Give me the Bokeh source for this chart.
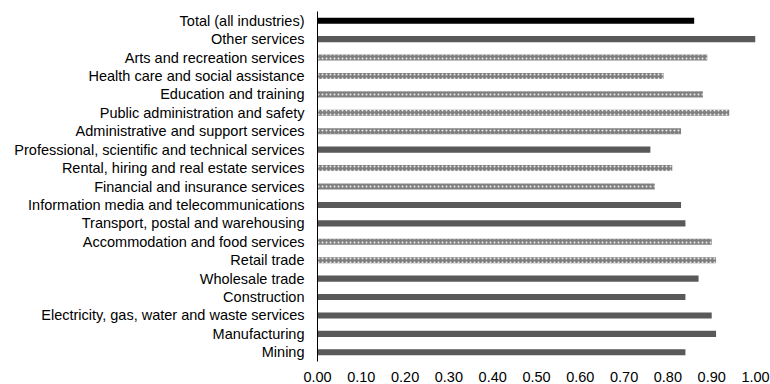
from bokeh.plotting import figure
from bokeh.models import ColumnDataSource, FactorRange, FixedTicker, NumeralTickFormatter
from bokeh.embed import file_html
from bokeh.resources import INLINE

# Industries from bottom to top, with their ratios
industries = [
    "Mining",
    "Manufacturing",
    "Electricity, gas, water and waste services",
    "Construction",
    "Wholesale trade",
    "Retail trade",
    "Accommodation and food services",
    "Transport, postal and warehousing",
    "Information media and telecommunications",
    "Financial and insurance services",
    "Rental, hiring and real estate services",
    "Professional, scientific and technical services",
    "Administrative and support services",
    "Public administration and safety",
    "Education and training",
    "Health care and social assistance",
    "Arts and recreation services",
    "Other services",
    "Total (all industries)",
]
ratios = [0.84, 0.91, 0.90, 0.84, 0.87, 0.91, 0.90, 0.84, 0.83, 0.77,
          0.81, 0.76, 0.83, 0.94, 0.88, 0.79, 0.89, 1.00, 0.86]
# bar style group: "solid", "dotted" or "total"
styles = ["solid", "solid", "solid", "solid", "solid", "dotted", "dotted", "solid",
          "solid", "dotted", "dotted", "solid", "dotted", "dotted", "dotted", "dotted",
          "dotted", "solid", "total"]
x_ticks = [0.0, 0.1, 0.2, 0.3, 0.4, 0.5, 0.6, 0.7, 0.8, 0.9, 1.0]

FONT = "Liberation Sans"

p = figure(
    width=770, height=384,
    y_range=FactorRange(*industries, range_padding=0),
    x_range=(0, 1.0),
    output_backend="svg", toolbar_location=None,
    min_border_left=317, min_border_right=15,
    min_border_top=11, min_border_bottom=23,
)

def subset(kind):
    idx = [i for i, s in enumerate(styles) if s == kind]
    return ColumnDataSource(dict(
        y=[industries[i] for i in idx],
        x=[ratios[i] for i in idx],
    ))

p.hbar(y="y", right="x", left=0, height=0.33, source=subset("solid"),
       fill_color="#595959", line_color=None)
p.hbar(y="y", right="x", left=0, height=0.33, source=subset("dotted"),
       fill_color="#808080", line_color=None,
       hatch_pattern="dot", hatch_color="#ececec", hatch_scale=4, hatch_weight=1)
p.hbar(y="y", right="x", left=0, height=0.33, source=subset("total"),
       fill_color="#000000", line_color=None)

p.xgrid.visible = False
p.ygrid.visible = False
p.outline_line_color = None

p.xaxis.ticker = FixedTicker(ticks=x_ticks)
p.xaxis.formatter = NumeralTickFormatter(format="0.00")
p.xaxis.axis_line_color = None
p.xaxis.major_tick_line_color = None
p.xaxis.minor_tick_line_color = None
p.xaxis.major_label_standoff = 4

p.yaxis.axis_line_color = "#000000"
p.yaxis.axis_line_width = 1
p.yaxis.major_tick_line_color = None
p.yaxis.minor_tick_line_color = None
p.yaxis.major_label_standoff = 7

for ax in (p.xaxis, p.yaxis):
    ax.major_label_text_font = FONT
    ax.major_label_text_font_size = "14.5px"
    ax.major_label_text_color = "#000000"

open("out.html", "w").write(file_html(p, INLINE))
